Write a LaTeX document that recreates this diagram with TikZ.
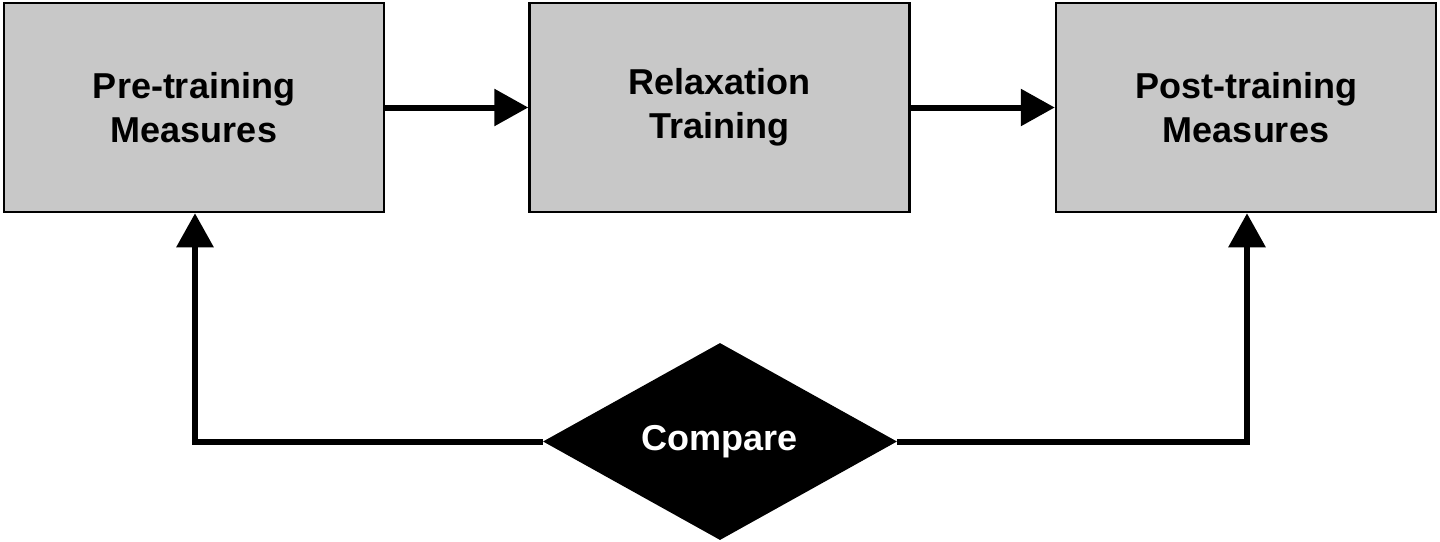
\documentclass[tikz,border=0pt]{standalone}
\usepackage{fontspec}
\setmainfont{Liberation Sans}
\usetikzlibrary{shapes.geometric,arrows.meta}
\begin{document}
\begin{tikzpicture}[x=1pt,y=-1pt,
  box/.style={draw=black,line width=2.5pt,fill={rgb,255:red,200;green,200;blue,200},minimum width=380pt,minimum height=209pt,inner sep=0pt,align=center,font=\bfseries\fontsize{36}{44}\selectfont},
  conn/.style={line width=6pt,-{Triangle[length=34pt,width=36pt]}},
  plain/.style={line width=6pt}]
\useasboundingbox (0,0) rectangle (1440,541);
\node[box] (a) at (194,107.5) {Pre-training\\Measures};
\node[box] (b) at (719.5,107.5) {Relaxation\\Training};
\node[box] (c) at (1246,107.5) {Post-training\\Measures};
\node[diamond,fill=black,draw=none,minimum width=354pt,minimum height=197pt,inner sep=0pt,aspect=1.8,text=white,font=\bfseries\fontsize{36}{44}\selectfont] (d) at (720,441.5) {Compare};
\draw[conn] (a.east) -- (b.west);
\draw[conn] (b.east) -- (c.west);
\coordinate (l) at (195,441.5);
\coordinate (r) at (1247,441.5);
\draw[plain] (d.west) -- (l);
\draw[conn] ([xshift=-3pt]l) -- (195,441.5) -- (a.south -| l);
\draw[plain] (d.east) -- (r);
\draw[conn] ([xshift=3pt]r) -- (r) -- (c.south -| r);
\end{tikzpicture}
\end{document}
